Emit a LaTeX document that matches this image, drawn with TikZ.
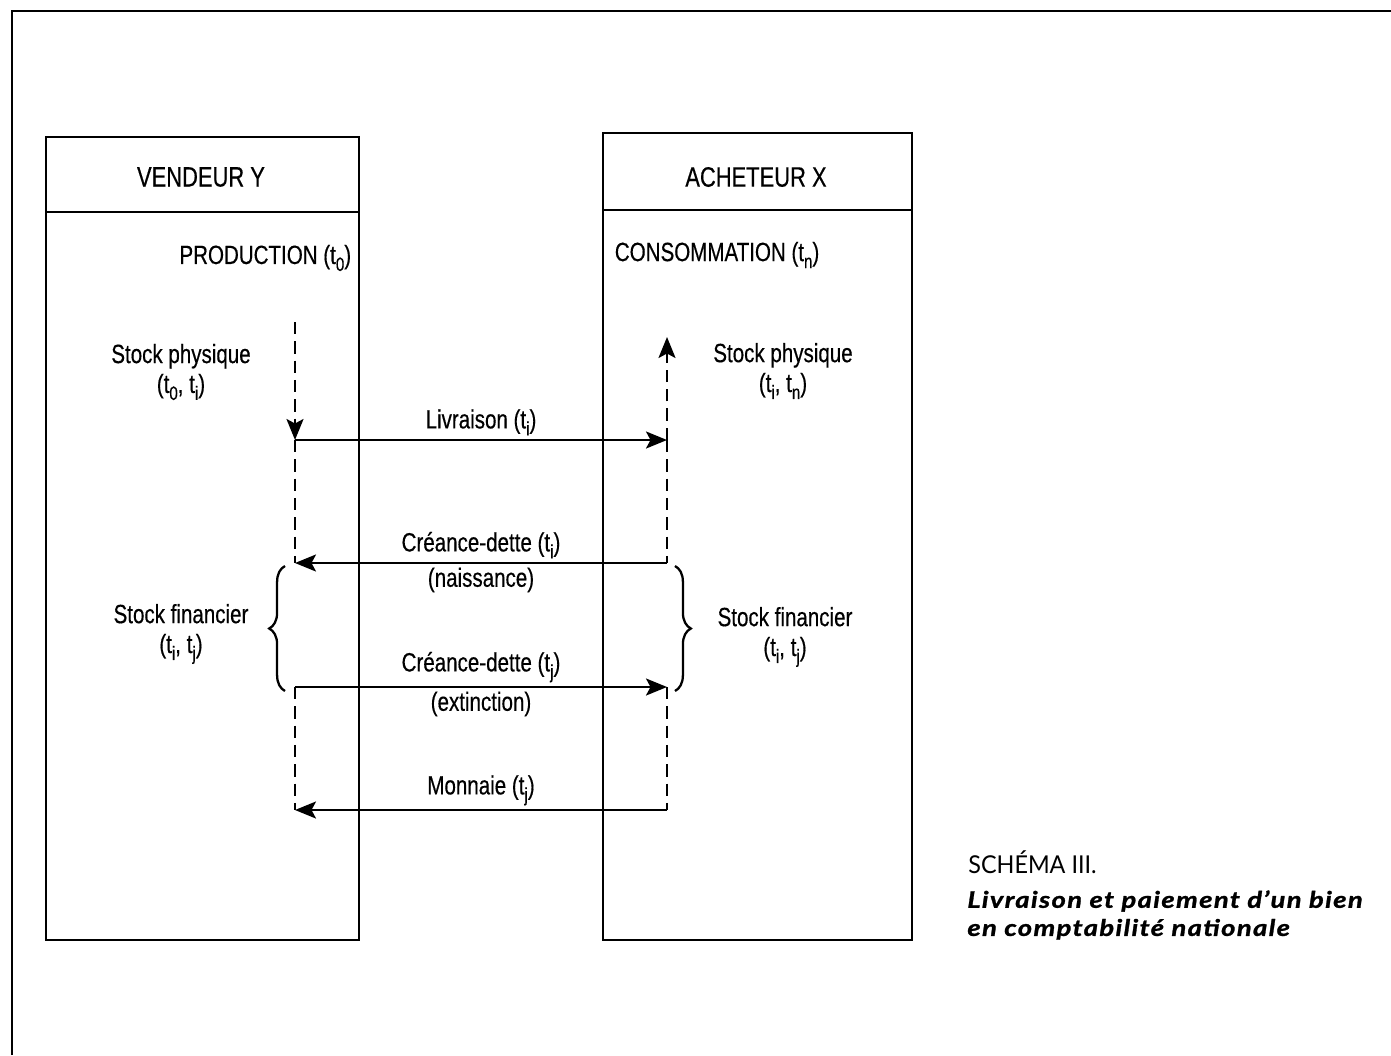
\documentclass[tikz,border=0pt]{standalone}
\usepackage{fontspec}
\setmainfont{Liberation Sans}[FakeStretch=0.78, FakeBold=0.4]
\newfontfamily\legende{Lato}[FakeStretch=0.95]
\newfontfamily\titrefont{Lato}[FakeStretch=1.2, LetterSpace=6, FakeBold=1.2]
\usetikzlibrary{arrows.meta,decorations.pathreplacing}

\newcommand{\tind}[1]{t\raisebox{-0.5ex}{\fontsize{11}{12}\selectfont#1}}

\tikzset{
  cadre/.style={line width=1.3pt},
  entete/.style={font=\fontsize{16}{18}\selectfont, inner sep=2pt},
  etiquette/.style={font=\fontsize{15}{17}\selectfont, align=center, inner sep=2pt},
  flux/.style={-{Stealth[length=4.2mm, width=3.4mm, inset=0.9mm]}, line width=1.3pt},
  pointille/.style={line width=1.3pt, dash pattern=on 7pt off 4pt},
  accolade/.style={decorate, decoration={brace, amplitude=9pt}, line width=1.3pt},
}

\begin{document}
\begin{tikzpicture}[x=0.02cm, y=-0.02cm]
  \useasboundingbox (0,0) rectangle (1391,1055);
  % cadre de la page
  \draw[line width=1.7pt] (12,1055) -- (12,11) -- (1391,11);

  % les deux agents
  \draw[cadre] (46,137) rectangle (359,940);
  \draw[cadre] (46,212) -- (359,212);
  \draw[cadre] (603,133) rectangle (912,940);
  \draw[cadre] (603,210) -- (912,210);
  \node[entete] (vendeur) at (201,177) {VENDEUR Y};
  \node[entete] (acheteur) at (756,177) {ACHETEUR X};
  \node[etiquette, anchor=east] (production) at (355,258) {PRODUCTION (\tind{0})};
  \node[etiquette, anchor=west] (consommation) at (611,255) {CONSOMMATION (\tind{n})};

  % points des flux
  \coordinate (yDebut) at (295,322);
  \coordinate (yLiv) at (295,440);
  \coordinate (yNais) at (295,563);
  \coordinate (yExt) at (295,687);
  \coordinate (yMon) at (295,810);
  \coordinate (xFin) at (667,337);
  \coordinate (xLiv) at (667,440);
  \coordinate (xNais) at (667,563);
  \coordinate (xExt) at (667,687);
  \coordinate (xMon) at (667,810);

  % stocks physiques
  \draw[pointille, flux] (yDebut) -- (yLiv);
  \draw[pointille] (yLiv) -- (yNais);
  \draw[pointille, flux] (xLiv) -- (xFin);
  \draw[pointille] (xLiv) -- (xNais);
  \draw[pointille] (yExt) -- (yMon);
  \draw[pointille] (xExt) -- (xMon);
  \node[etiquette] (physY) at (181,372) {Stock physique\\(\tind{0}, \tind{i})};
  \node[etiquette] (physX) at (783,371) {Stock physique\\(\tind{i}, \tind{n})};

  % stocks financiers
  \draw[accolade] (285,691) -- (285,566);
  \draw[accolade] (675,566) -- (675,691);
  \node[etiquette] (finY) at (181,634) {Stock financier\\(\tind{i}, \tind{j})};
  \node[etiquette] (finX) at (785,637) {Stock financier\\(\tind{i}, \tind{j})};

  % flux entre agents
  \draw[flux] (yLiv) -- node[etiquette, above] (livraison) {Livraison (\tind{i})} (xLiv);
  \draw[flux] (xNais) -- node[etiquette, above] (creanceI) {Créance-dette (\tind{i})}
    node[etiquette, below] (naissance) {(naissance)} (yNais);
  \draw[flux] (yExt) -- node[etiquette, above] (creanceJ) {Créance-dette (\tind{j})}
    node[etiquette, below] (extinction) {(extinction)} (xExt);
  \draw[flux] (xMon) -- node[etiquette, above] (monnaie) {Monnaie (\tind{j})} (yMon);

  % legende
  \node[anchor=west, inner sep=0pt, font=\legende\fontsize{14}{16}\selectfont] (schema) at (968,862) {SCHÉMA III.};
  \node[anchor=north west, align=left, inner sep=0pt,
    font=\titrefont\bfseries\itshape\fontsize{13}{16}\selectfont] (titre) at (967,890)
    {Livraison et paiement d’un bien\\en comptabilité nationale};
\end{tikzpicture}
\end{document}
